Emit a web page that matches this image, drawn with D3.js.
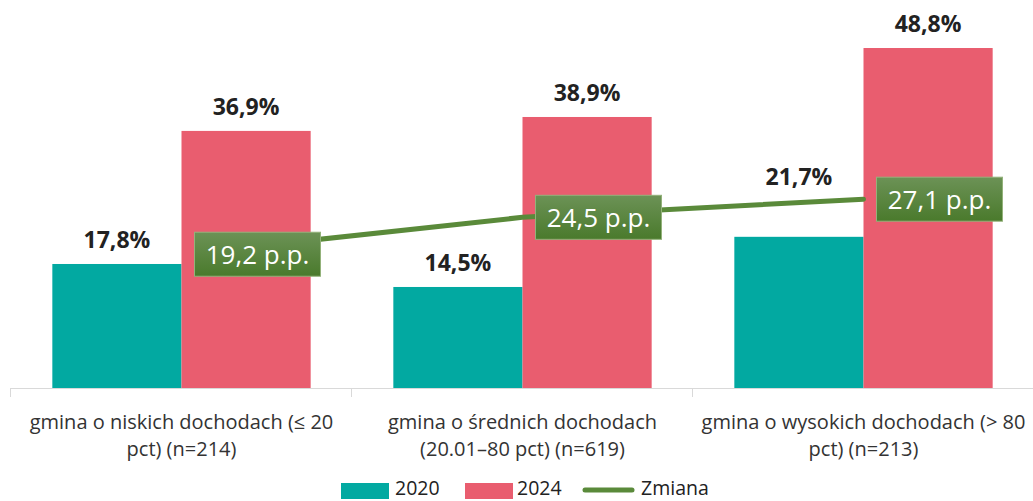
<!DOCTYPE html>
<html>
<head>
<meta charset="utf-8">
<script src="https://cdn.jsdelivr.net/npm/d3@7"></script>
<style>
  html, body { margin: 0; padding: 0; background: #fff; }
  svg { display: block; }
</style>
</head>
<body>
<svg id="chart" width="1033" height="501"></svg>
<script>
// Category labels (two lines each)
const categories = [
  ["gmina o niskich dochodach (≤ 20", "pct) (n=214)"],
  ["gmina o średnich dochodach", "(20.01–80 pct) (n=619)"],
  ["gmina o wysokich dochodach (> 80", "pct) (n=213)"]
];
const values2020 = [17.8, 14.5, 21.7];
const values2024 = [36.9, 38.9, 48.8];
const changePP = [19.2, 24.5, 27.1];
const seriesNames = ["2020", "2024", "Zmiana"];

const colors = { s2020: "#02A9A1", s2024: "#E95D6F", line: "#5A8A3A" };
const FONT = "Open Sans, sans-serif";

const svg = d3.select("#chart");
const margin = { left: 11, right: 0, top: 5, bottom: 113 };
const W = 1033, H = 501;
const plotBottom = H - margin.bottom; // 388

const x0 = d3.scaleBand()
  .domain(d3.range(categories.length))
  .range([margin.left, W - margin.right + 1])
  .paddingInner(0).paddingOuter(0);

const x1 = d3.scaleBand()
  .domain([0, 1])
  .range([0, x0.bandwidth()])
  .paddingOuter(0.32)
  .paddingInner(0);

const y = d3.scaleLinear().domain([0, 55]).range([plotBottom, plotBottom - 55 * 6.967]);

const defs = svg.append("defs");
const grad = defs.append("linearGradient").attr("id", "boxGrad")
  .attr("x1", 0).attr("y1", 0).attr("x2", 0).attr("y2", 1);
grad.append("stop").attr("offset", "0%").attr("stop-color", "#6C9256");
grad.append("stop").attr("offset", "100%").attr("stop-color", "#4A7A2C");

// Axis line and category separators
svg.append("line")
  .attr("x1", margin.left).attr("x2", W)
  .attr("y1", plotBottom + 0.5).attr("y2", plotBottom + 0.5)
  .attr("stroke", "#D9D9D9").attr("stroke-width", 1);
const bounds = d3.range(categories.length + 1).map(i => x0.range()[0] + i * x0.step());
svg.selectAll(".sep").data(bounds).enter().append("line")
  .attr("x1", d => Math.round(d) - 0.5).attr("x2", d => Math.round(d) - 0.5)
  .attr("y1", plotBottom).attr("y2", plotBottom + 9)
  .attr("stroke", "#D9D9D9");

// Change line geometry (shared by the line and the label placement)
const cx = i => x0(i) + x0.bandwidth() / 2;
const lineY = px => {
  const xs = changePP.map((d, i) => cx(i));
  const ys = changePP.map(d => y(d));
  if (px <= xs[0]) return ys[0];
  for (let i = 1; i < xs.length; i++) {
    if (px <= xs[i]) return d3.interpolateNumber(ys[i - 1], ys[i])((px - xs[i - 1]) / (xs[i] - xs[i - 1]));
  }
  return ys[ys.length - 1];
};
const boxOffset = 13, boxW = 126, boxH = 44;
const lineStart = cx(0) + boxOffset;

// Bars
const groups = svg.selectAll(".grp").data(categories.map((c, i) => i)).enter()
  .append("g").attr("transform", i => `translate(${x0(i)},0)`);

const barData = i => [
  { g: i, k: 0, v: values2020[i], c: colors.s2020 },
  { g: i, k: 1, v: values2024[i], c: colors.s2024 }
];

groups.selectAll("rect").data(barData).enter().append("rect")
  .attr("x", d => x1(d.k))
  .attr("width", x1.bandwidth())
  .attr("y", d => y(d.v))
  .attr("height", d => y(0) - y(d.v))
  .attr("fill", d => d.c);

// Value labels: above the bar, lifted above the change line where they would cross it
const labelBaseline = d => {
  const px = x0(d.g) + x1(d.k) + x1.bandwidth() / 2;
  let base = y(d.v) - 16;
  if (px >= lineStart) {
    const ly = lineY(px);
    if (base > ly - 6 && base - 18 < ly + 6) base = ly - 18;
  }
  return base;
};
groups.selectAll(".val").data(barData).enter().append("text")
  .attr("x", d => x1(d.k) + x1.bandwidth() / 2)
  .attr("y", labelBaseline)
  .attr("text-anchor", "middle")
  .attr("font-family", FONT)
  .attr("font-weight", 700)
  .attr("font-size", 23)
  .attr("fill", "#222")
  .text(d => d.v.toFixed(1).replace(".", ",") + "%");

// Change line (starts where the first label box begins)
defs.append("clipPath").attr("id", "lineClip")
  .append("rect")
  .attr("x", lineStart).attr("y", 0)
  .attr("width", W).attr("height", H);
const line = d3.line().x((d, i) => cx(i)).y(d => y(d));
svg.append("path").datum(changePP)
  .attr("d", line)
  .attr("clip-path", "url(#lineClip)")
  .attr("fill", "none")
  .attr("stroke", colors.line)
  .attr("stroke-width", 5)
  .attr("stroke-linecap", "round");

// Change labels
const lab = svg.selectAll(".pp").data(changePP).enter().append("g")
  .attr("transform", (d, i) => `translate(${cx(i) + boxOffset},${y(d)})`);
lab.append("rect")
  .attr("x", 0).attr("y", -boxH / 2).attr("width", boxW).attr("height", boxH)
  .attr("fill", "url(#boxGrad)")
  .attr("stroke", "#93B27A").attr("stroke-width", 1);
lab.append("text")
  .attr("x", boxW / 2).attr("y", 9.5)
  .attr("text-anchor", "middle")
  .attr("font-family", FONT)
  .attr("font-size", 26)
  .attr("fill", "#fff")
  .text(d => d.toFixed(1).replace(".", ",") + " p.p.");

// Category labels
const cat = svg.selectAll(".cat").data(categories).enter().append("text")
  .attr("text-anchor", "middle")
  .attr("font-family", FONT)
  .attr("font-size", 20)
  .attr("fill", "#333");
cat.each(function (d, i) {
  d3.select(this).selectAll("tspan").data(d).enter().append("tspan")
    .attr("x", cx(i))
    .attr("y", (t, j) => 429 + j * 27)
    .text(t => t);
});

// Legend
const legend = svg.append("g").attr("transform", "translate(341,0)");
const legItems = [
  { name: seriesNames[0], type: "rect", c: colors.s2020, x: 0, tx: 54 },
  { name: seriesNames[1], type: "rect", c: colors.s2024, x: 124, tx: 176 },
  { name: seriesNames[2], type: "line", c: colors.line, x: 242, tx: 300 }
];
legItems.forEach(it => {
  if (it.type === "rect") {
    legend.append("rect").attr("x", it.x).attr("y", 483).attr("width", 48).attr("height", 16).attr("fill", it.c);
  } else {
    legend.append("line").attr("x1", it.x + 2).attr("x2", it.x + 49).attr("y1", 490).attr("y2", 490)
      .attr("stroke", it.c).attr("stroke-width", 5).attr("stroke-linecap", "round");
  }
  legend.append("text").attr("x", it.tx).attr("y", 495)
    .attr("font-family", FONT).attr("font-size", 19.5).attr("fill", "#222")
    .text(it.name);
});
</script>
</body>
</html>
